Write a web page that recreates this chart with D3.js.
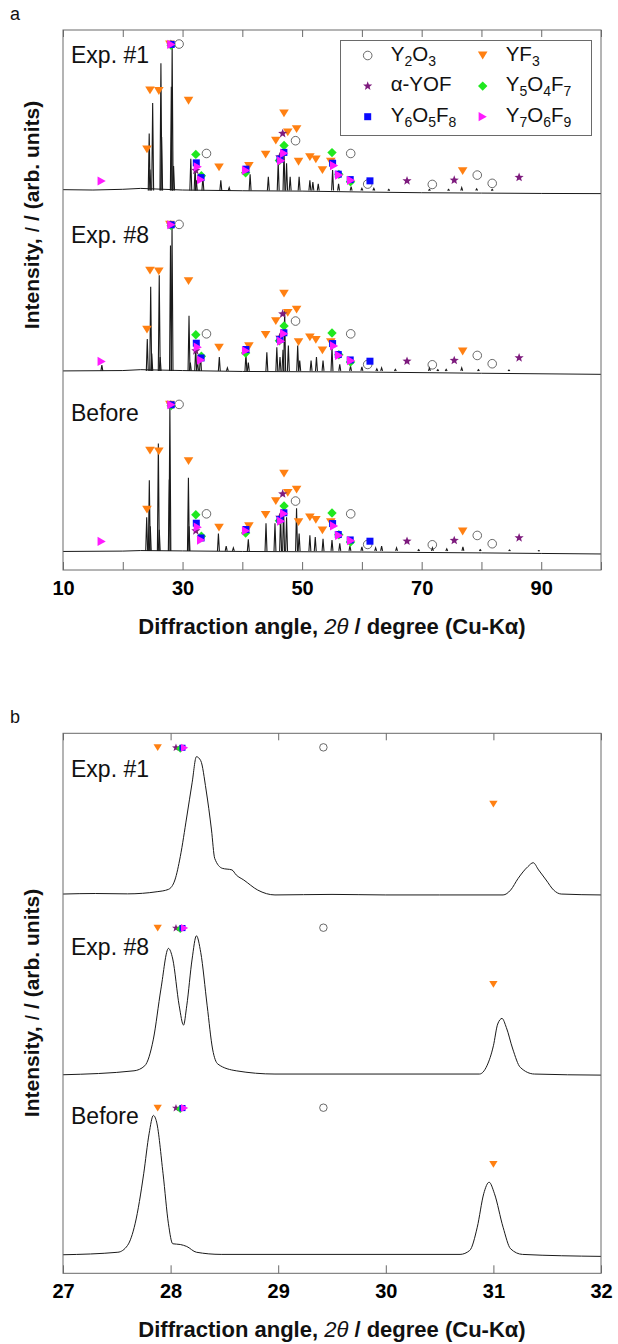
<!DOCTYPE html>
<html><head><meta charset="utf-8">
<script src="https://cdn.jsdelivr.net/npm/d3@7/dist/d3.min.js"></script>
<style>
body{margin:0;background:#fff}
svg{display:block}
text{font-family:Arial,"Liberation Sans",Helvetica,sans-serif}
</style>
</head><body>
<svg id="chart" width="618" height="1344"></svg>
<script>
// ---------------- DATA ----------------
const traceNames = ["Exp. #1", "Exp. #8", "Before"];
const traceOffsets = [210.5, 110.3, 10.3];

// panel a: peak lists [2θ, relative intensity]
const exp1Peaks = [[24.42,32],[24.55,12],[25.0,49],[26.38,71],[26.5,30],[28.12,58],[28.26,81],[28.5,14],[31.38,18],[32.1,13.5],[32.3,6],[33.4,8],[36.4,6],[37.8,2],[41.3,9.4],[44.35,8],[46.0,16.3],[46.97,22.8],[47.4,15.4],[48.0,8],[49.5,8],[51.3,6],[51.8,5],[52.7,4],[55.1,11.7],[56.1,4],[58.2,2.5],[60.0,1.5],[62.0,1.5],[64.5,1],[71.3,1],[74.5,1],[76.7,2],[79.2,1.2],[81.8,1]];
const exp8Peaks = [[16.5,3.5],[24.1,18],[24.67,47],[24.85,10],[26.1,53.5],[26.25,8],[27.98,70],[28.24,81],[31.08,31],[31.3,5],[32.2,13.5],[32.5,6],[33.0,10],[36.15,8],[37.5,2],[40.6,9.8],[41.0,5],[44.1,10.7],[45.77,13.5],[46.3,8],[46.8,12],[47.08,34],[47.7,14.4],[49.26,14.4],[49.6,6],[51.5,6],[52.4,8],[53.5,6],[55.0,13.5],[56.3,4],[58.1,3],[60.0,2.5],[62.5,1.5],[63.3,2],[65.6,1.2],[71.3,2],[72.7,1],[74.1,1.2],[76.7,2],[79.5,1],[84.6,0.8]];
const beforePeaks = [[24.0,19],[24.44,39.5],[24.6,14],[25.95,60],[26.1,12],[27.78,40],[27.88,82],[30.98,41],[31.08,14],[36.0,10],[37.3,3],[38.5,2],[41.0,6.8],[43.96,15.6],[45.46,15.6],[46.4,20],[46.9,25],[47.4,19],[49.07,24],[49.5,10],[51.3,9],[52.2,8],[53.5,7],[55.0,6.3],[56.3,4.5],[58.0,3],[60.0,2.5],[62.3,2],[63.3,3],[65.8,2],[69.5,1],[71.8,2],[74.2,1.5],[76.9,2.5],[79.8,1],[84.7,0.8],[89.6,0.5]];

// panel a: baselines [2θ, relative intensity]
const exp1Base = [[10,0.8],[15,0.6],[20,1.0],[23,1.5],[30,0.6],[40,0.2],[50,0],[60,-0.5],[70,-0.9],[80,-1.1],[90,-1.3],[100,-1.4]];
const exp8Base = [[10,0.3],[20,0.5],[23,1],[30,0.5],[40,0],[60,-0.3],[80,-1],[100,-1.6]];
const beforeBase = [[10,0],[20,0.2],[23,0.5],[30,0.3],[40,0],[60,-0.3],[80,-0.8],[90,-1.1],[100,-1.4]];

// panel b: profiles [2θ, relative intensity]
const exp1Zoom = [[27.0,0.2],[27.3,0.5],[27.6,0.3],[27.875,1.5],[27.98,2.8],[28.04,8],[28.09,21],[28.15,43],[28.20,62],[28.24,76.5],[28.28,74.3],[28.33,58],[28.38,35.8],[28.41,20],[28.48,14.5],[28.57,13.6],[28.61,10.8],[28.68,8],[28.81,2.4],[28.97,-0.3],[29.5,0],[30.0,-0.3],[30.5,-0.3],[31.09,-0.3],[31.16,2.4],[31.23,8.9],[31.32,15.4],[31.37,17.6],[31.42,13.6],[31.49,8],[31.56,2.4],[31.63,0.2],[32.0,-0.3]];
const exp8Zoom = [[27.0,0],[27.66,2.2],[27.76,5],[27.84,19.8],[27.91,47.6],[27.98,70.2],[28.02,64.3],[28.08,38.3],[28.12,27.6],[28.15,38.3],[28.20,64.3],[28.24,77.2],[28.28,68],[28.34,38.3],[28.39,14.3],[28.44,5.9],[28.61,2.2],[28.97,0.4],[30.87,0.4],[30.94,5],[31.0,16.1],[31.04,28.2],[31.08,31.3],[31.12,26.3],[31.18,14.3],[31.25,4.1],[31.38,0.4],[32.0,-0.2]];
const beforeZoom = [[27.0,0],[27.51,1.4],[27.60,5.2],[27.67,17.2],[27.75,45],[27.80,67.2],[27.84,77.4],[27.87,73.7],[27.93,45],[27.98,17.2],[28.02,6.1],[28.09,5.7],[28.15,4.6],[28.24,1.4],[28.47,0.2],[30.69,0.2],[30.78,2.4],[30.85,15.3],[30.91,33.9],[30.96,40.3],[31.01,33.9],[31.09,15.3],[31.16,3.3],[31.27,0.2],[32.0,-0.9]];

// reference markers [2θ, relative height]
const y2o3Marks = [[29.42,81.7],[34.0,20.9],[48.9,28],[58.13,20.9],[60.97,3.9],[71.78,3.7],[79.3,8.9],[81.8,4.3]];
const yf3Marks = [[24.05,23.2],[24.55,56],[26.03,55.6],[27.88,81.5],[31.0,50.2],[36.1,13.2],[41.1,14],[43.9,20.3],[45.6,28],[46.97,43.2],[47.6,32.6],[49.08,34.4],[49.4,16.3],[51.3,18.9],[52.3,17.6],[53.4,11.7],[54.8,16.3],[76.86,11.1]];
const yofMarks = [[28.05,81.5],[32.22,11.5],[46.25,19],[46.75,32],[67.55,5.7],[75.45,6.1],[86.3,7.6]];
const y5o4f7Marks = [[28.09,81],[32.22,20.4],[33.15,8.5],[40.55,10.2],[46.2,17],[46.98,25.3],[55.0,21.4],[56.15,9.3],[58.1,5.2]];
const y6o5f8Marks = [[28.11,81.5],[32.3,15.7],[33.1,7.5],[40.6,12.2],[46.3,17.8],[46.95,21.5],[55.1,15.5],[56.05,9.4],[58.05,6.4],[61.35,5.7]];
const y7o6f9Marks = [[16.47,5.6],[28.13,81.5],[32.55,13.5],[33.1,6.3],[40.62,11.5],[46.5,16.8],[47.0,21],[55.35,14.2],[56.2,8.9],[58.2,6]];

const phaseNames = ["Y2O3","YF3","α-YOF","Y5O4F7","Y6O5F8","Y7O6F9"];
const legendParts = [
  [["Y",0],["2",1],["O",0],["3",1]],
  [["YF",0],["3",1]],
  [["α-YOF",0]],
  [["Y",0],["5",1],["O",0],["4",1],["F",0],["7",1]],
  [["Y",0],["6",1],["O",0],["5",1],["F",0],["8",1]],
  [["Y",0],["7",1],["O",0],["6",1],["F",0],["9",1]]
];

const xTicksA = [10,20,30,40,50,60,70,80,90,100];
const xLabelsA = [10,30,50,70,90];
const xTicksB = [27,28,29,30,31,32];

// ---------------- DRAWING ----------------
const svg = d3.select("#chart");
const markSets = [y2o3Marks, yf3Marks, yofMarks, y5o4f7Marks, y6o5f8Marks, y7o6f9Marks];
const markStyle = [
  {shape:"circle", fill:"none", stroke:"#444"},
  {shape:"triDown", fill:"#ff8012", stroke:"none"},
  {shape:"star", fill:"#7d1a7d", stroke:"none"},
  {shape:"diamond", fill:"#1fe81f", stroke:"none"},
  {shape:"square", fill:"#0a0aff", stroke:"none"},
  {shape:"triRight", fill:"#ff1aff", stroke:"none"}
];
function shapePath(shape, k){
  if(shape==="triDown"){const w=9.6*k,h=7.8*k;return `M${-w/2},${-h/2}L${w/2},${-h/2}L0,${h/2}Z`;}
  if(shape==="triRight"){const w=8.2*k,h=9.2*k;return `M${-w/2},${-h/2}L${w/2},0L${-w/2},${h/2}Z`;}
  if(shape==="diamond"){const s=4.7*k;return `M0,${-s}L${s},0L0,${s}L${-s},0Z`;}
  if(shape==="square"){const s=3.5*k;return `M${-s},${-s}H${s}V${s}H${-s}Z`;}
  if(shape==="star"){const R=4.8*k,r=R*0.42;const p=[];for(let i=0;i<10;i++){const a=-Math.PI/2+i*Math.PI/5;const rr=i%2?r:R;p.push([(rr*Math.cos(a)).toFixed(2),(rr*Math.sin(a)).toFixed(2)]);}return "M"+p.join("L")+"Z";}
  if(shape==="circle"){const r=4.3*k;return `M${r},0A${r},${r} 0 1,1 ${-r},0A${r},${r} 0 1,1 ${r},0Z`;}
}
function drawMark(g, i, x, y, k){
  const st = markStyle[i];
  g.append("path").attr("d", shapePath(st.shape,k)).attr("transform",`translate(${x},${y})`)
    .attr("fill", st.fill).attr("stroke", st.stroke).attr("stroke-width", 0.8);
}

function panel(cfg){
  const x = d3.scaleLinear().domain(cfg.xDomain).range([cfg.left, cfg.right]);
  const y = d3.scaleLinear().domain([0,300]).range([cfg.bottom, cfg.top]);
  const g = svg.append("g");
  const clipId = "clip"+cfg.id;
  svg.append("defs").append("clipPath").attr("id",clipId).append("rect")
    .attr("x",cfg.left).attr("y",cfg.top-20).attr("width",cfg.right-cfg.left).attr("height",cfg.bottom-cfg.top+20);
  const plot = g.append("g").attr("clip-path",`url(#${clipId})`);

  // traces
  const lineGen = (off, curve) => d3.line().x(d=>x(d[0])).y(d=>y(d[1]+off)).curve(curve);
  cfg.traces.forEach((tr, ti) => {
    const off = traceOffsets[ti];
    if (tr.profile) {
      plot.append("path").datum(tr.profile).attr("d", lineGen(off, d3.curveMonotoneX))
        .attr("fill","none").attr("stroke","#1a1a1a").attr("stroke-width",1);
    } else {
      plot.append("path").datum(tr.base).attr("d", lineGen(off, d3.curveLinear))
        .attr("fill","none").attr("stroke","#1a1a1a").attr("stroke-width",1);
      const hw = 0.16;
      plot.selectAll(null).data(tr.peaks).enter().append("path")
        .attr("d", d => lineGen(off, d3.curveLinear)([[d[0]-hw,0.3],[d[0],d[1]],[d[0]+hw,0.3]]))
        .attr("fill","none").attr("stroke","#1a1a1a").attr("stroke-width",1.1);
    }
  });

  // markers
  traceOffsets.forEach(off => {
    markSets.forEach((set, i) => {
      set.filter(d => d[0] >= cfg.xDomain[0] && d[0] <= cfg.xDomain[1]).forEach(d => {
        drawMark(plot, i, x(d[0]), y(d[1]+off), cfg.markScale);
      });
    });
  });

  // trace labels
  traceNames.forEach((n,i) => {
    g.append("text").attr("x", cfg.left+8).attr("y", cfg.labelY[i]).attr("font-size",23).attr("fill","#111").text(n);
  });

  // box
  g.append("rect").attr("x",cfg.left).attr("y",cfg.top).attr("width",cfg.right-cfg.left).attr("height",cfg.bottom-cfg.top)
    .attr("fill","none").attr("stroke","#6a6a6a").attr("stroke-width",1);

  // axes
  const xb = d3.axisBottom(x).tickValues(cfg.ticks).tickSizeInner(-8).tickSizeOuter(0).tickPadding(11)
    .tickFormat(d => cfg.labels.includes(d) ? d : "");
  const ax = g.append("g").attr("transform",`translate(0,${cfg.bottom})`).call(xb);
  ax.select(".domain").remove();
  ax.selectAll(".tick line").attr("stroke","#6a6a6a");
  ax.selectAll(".tick text").attr("font-size",20).attr("font-weight","bold").attr("fill","#000")
    .attr("font-family","Arial, 'Liberation Sans', sans-serif");
  const xt = d3.axisTop(x).tickValues(cfg.ticks).tickSizeInner(-7).tickSizeOuter(0).tickFormat("");
  const axt = g.append("g").attr("transform",`translate(0,${cfg.top})`).call(xt);
  axt.select(".domain").remove();
  axt.selectAll(".tick line").attr("stroke","#6a6a6a");

  // axis titles
  const t = g.append("text").attr("x",(cfg.left+cfg.right)/2).attr("y",cfg.bottom+64).attr("text-anchor","middle")
    .attr("font-size",22).attr("font-weight","bold").attr("fill","#111");
  t.append("tspan").text("Diffraction angle, ");
  t.append("tspan").attr("font-style","italic").attr("font-weight","normal").text("2θ");
  t.append("tspan").text(" / degree (Cu-Kα)");

  const yl = g.append("text").attr("transform",`translate(39,${cfg.yLabelY}) rotate(-90)`).attr("text-anchor","middle")
    .attr("font-size",21).attr("font-weight","bold").attr("fill","#111");
  yl.append("tspan").text("Intensity, ");
  yl.append("tspan").attr("font-style","italic").attr("font-weight","normal").text("I");
  yl.append("tspan").text(" / (arb. units)");

  g.append("text").attr("x",10).attr("y",cfg.top-10).attr("font-size",18).attr("fill","#111").text(cfg.id);
  return {x,y,g};
}

const pa = panel({
  id:"a", left:63, right:601, top:30, bottom:570, xDomain:[10,100], ticks:xTicksA, labels:xLabelsA,
  labelY:[63,243,421], yLabelY:215, markScale:1,
  traces:[{peaks:exp1Peaks, base:exp1Base},{peaks:exp8Peaks, base:exp8Base},{peaks:beforePeaks, base:beforeBase}]
});
const pb = panel({
  id:"b", left:63, right:601, top:733.3, bottom:1273.3, xDomain:[27,32], ticks:xTicksB, labels:xTicksB,
  labelY:[777,955,1124], yLabelY:1003, markScale:0.87,
  traces:[{profile:exp1Zoom},{profile:exp8Zoom},{profile:beforeZoom}]
});

// legend (panel a)
const lg = svg.append("g");
lg.append("rect").attr("x",340.5).attr("y",40.5).attr("width",251).attr("height",95)
  .attr("fill","#fff").attr("stroke","#6a6a6a").attr("stroke-width",1);
phaseNames.forEach((name,i) => {
  const col = i%2, row = Math.floor(i/2);
  const sx = col ? 482.7 : 367.7, sy = 55.5 + row*30.6;
  drawMark(lg, i, sx, sy, 1);
  const tx = lg.append("text").attr("x", sx+23).attr("y", sy+5).attr("font-size",20.5).attr("fill","#111");
  let shifted = false;
  legendParts[i].forEach(p => {
    const ts = tx.append("tspan").text(p[0]);
    if (p[1]) { ts.attr("font-size",14).attr("dy", shifted ? 0 : 5); shifted = true; }
    else { if (shifted) ts.attr("dy",-5); shifted = false; }
  });
});
</script>
</body></html>
